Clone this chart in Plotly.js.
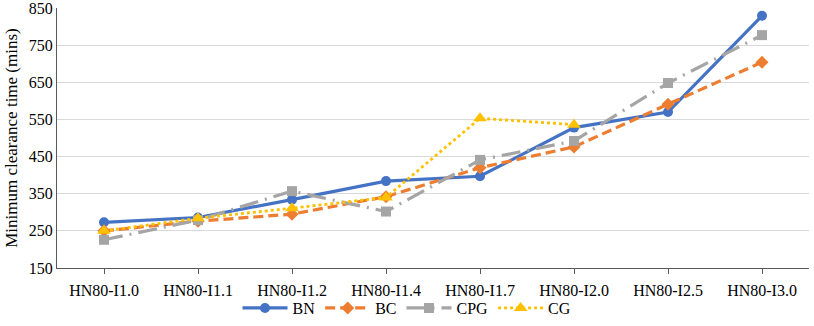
<!DOCTYPE html>
<html>
<head>
<meta charset="utf-8">
<script src="https://cdn.plot.ly/plotly-3.0.1.min.js"></script>
<style>
  html, body { margin: 0; padding: 0; background: #fff; }
  #chart { width: 814px; height: 326px; }
</style>
</head>
<body>
<div id="chart"></div>
<script>
// Minimum clearance time per scenario

const categories = ['HN80-I1.0', 'HN80-I1.1', 'HN80-I1.2', 'HN80-I1.4',
                    'HN80-I1.7', 'HN80-I2.0', 'HN80-I2.5', 'HN80-I3.0'];

const bnValues  = [273, 286, 334, 384, 397, 528, 570, 829];
const bcValues  = [250, 276, 295, 342, 420, 476, 591, 704];
const cpgValues = [226, 279, 357, 302, 441, 492, 648, 777];
const cgValues  = [250, 284, 311, 340, 553, 536];
const cgCategories = categories.slice(0, cgValues.length);

const yTicks = [150, 250, 350, 450, 550, 650, 750, 850];

const serif = '"Liberation Serif", "Times New Roman", serif';

const data = [
    {
        x: categories, y: bnValues, name: 'BN',
        type: 'scatter', mode: 'lines+markers',
        line: { color: '#4472C4', width: 3.2 },
        marker: { color: '#4472C4', size: 10, symbol: 'circle' }
    },
    {
        x: categories, y: bcValues, name: 'BC',
        type: 'scatter', mode: 'lines+markers',
        line: { color: '#ED7D31', width: 3.2, dash: '10px,5px' },
        marker: { color: '#ED7D31', size: 10, symbol: 'diamond' }
    },
    {
        x: categories, y: cpgValues, name: 'CPG',
        type: 'scatter', mode: 'lines+markers',
        line: { color: '#A5A5A5', width: 3.2, dash: '19px,7px,2px,7px' },
        marker: { color: '#A5A5A5', size: 10, symbol: 'square' }
    },
    {
        x: cgCategories, y: cgValues, name: 'CG',
        type: 'scatter', mode: 'lines+markers',
        line: { color: '#FFC000', width: 2.8, dash: 'dot' },
        marker: { color: '#FFC000', size: 12, symbol: 'triangle-up' }
    }
];

const layout = {
    width: 814,
    height: 326,
    margin: { l: 57, r: 5, t: 8, b: 58, autoexpand: false },
    paper_bgcolor: '#ffffff',
    plot_bgcolor: '#ffffff',
    font: { family: serif, size: 16, color: '#000000' },
    showlegend: true,
    legend: {
        orientation: 'h',
        xref: 'container', yref: 'container',
        x: 0.5, xanchor: 'center',
        y: 0.055, yanchor: 'middle',
        bgcolor: 'rgba(0,0,0,0)',
        font: { family: serif, size: 16, color: '#000000' },
        itemwidth: 45,
        traceorder: 'normal'
    },
    xaxis: {
        type: 'category',
        range: [-0.5, 7.5],
        showgrid: false,
        showline: true,
        linecolor: '#595959',
        linewidth: 1,
        ticks: 'outside',
        ticklen: 5,
        tickcolor: '#595959',
        ticklabelstandoff: 3,
        tickfont: { family: serif, size: 16, color: '#000000' },
        zeroline: false
    },
    yaxis: {
        range: [150, 850],
        tickvals: yTicks,
        ticktext: yTicks.map(String),
        ticklabeloverflow: 'allow',
        showgrid: true,
        gridcolor: '#D9D9D9',
        gridwidth: 1,
        showline: true,
        linecolor: '#595959',
        linewidth: 1,
        ticks: '',
        tickfont: { family: serif, size: 16, color: '#000000' },
        zeroline: false,
        title: {
            text: 'Minimum clearance time (mins)',
            font: { family: serif, size: 17, color: '#000000' },
            standoff: 6
        }
    }
};

Plotly.newPlot('chart', data, layout, { displayModeBar: false, responsive: false });
</script>
</body>
</html>
